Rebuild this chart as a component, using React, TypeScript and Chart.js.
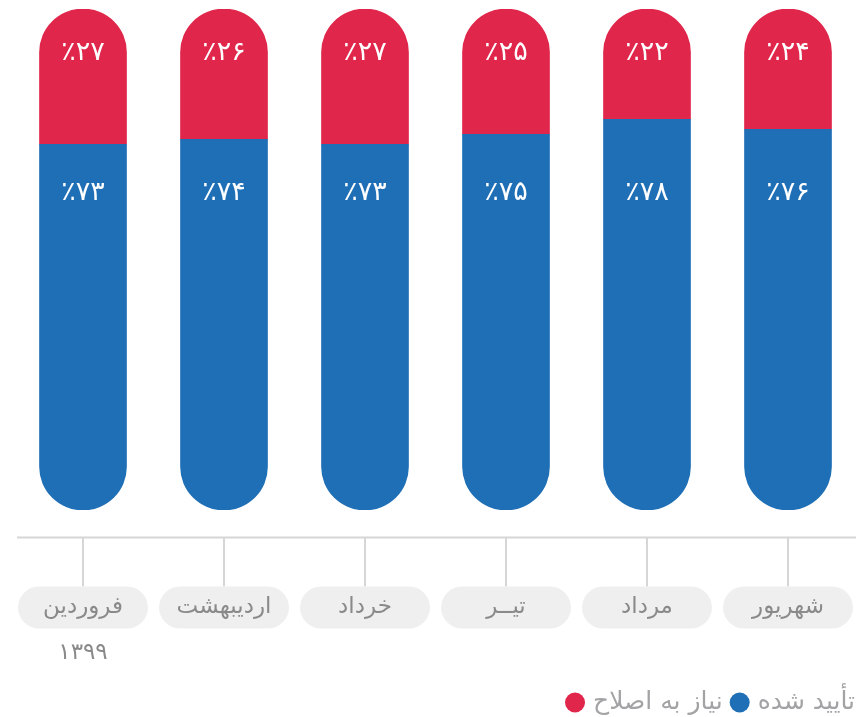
import React, { useEffect, useRef } from 'react';
import { Chart, registerables } from 'chart.js';

Chart.register(...registerables);

const months = ['فروردین', 'اردیبهشت', 'خرداد', 'تیــر', 'مرداد', 'شهریور'];
const approved = [73, 74, 73, 75, 78, 76];
const needsFix = [27, 26, 27, 25, 22, 24];
const approvedLabel = 'تأیید شده';
const needsFixLabel = 'نیاز به اصلاح';
const yearLabel = '۱۳۹۹';

const BLUE = '#1F6FB6';
const RED = '#E0264A';
const FONT = '"DejaVu Sans", sans-serif';

const toFa = (n: number) => String(n).replace(/\d/g, (d) => '۰۱۲۳۴۵۶۷۸۹'[Number(d)]);

const decorPlugin = {
  id: 'decor',
  afterDatasetsDraw(chart: any) {
    const { ctx, scales } = chart;
    const y = scales.y;
    ctx.save();
    ctx.fillStyle = '#ffffff';
    ctx.font = `27px ${FONT}`;
    ctx.textAlign = 'center';
    ctx.textBaseline = 'middle';
    const meta0 = chart.getDatasetMeta(0);
    const meta1 = chart.getDatasetMeta(1);
    meta0.data.forEach((bar: any, i: number) => {
      ctx.fillText('٪' + toFa(approved[i]), bar.x, y.getPixelForValue(63.2));
    });
    meta1.data.forEach((bar: any, i: number) => {
      ctx.fillText('٪' + toFa(needsFix[i]), bar.x, y.getPixelForValue(91.2));
    });
    ctx.restore();
  },
  afterDraw(chart: any) {
    const { ctx, scales, chartArea } = chart;
    const x = scales.x;
    const axisY = chartArea.bottom + 27.5;
    const pillTop = axisY + 49;
    const pillH = 42;
    const pillW = 130;
    ctx.save();
    // axis line
    ctx.strokeStyle = '#D6D6D6';
    ctx.lineWidth = 2;
    ctx.beginPath();
    ctx.moveTo(17, axisY);
    ctx.lineTo(856, axisY);
    ctx.stroke();
    months.forEach((m, i) => {
      const cx = x.getPixelForValue(i);
      ctx.strokeStyle = '#D6D6D6';
      ctx.lineWidth = 2;
      ctx.beginPath();
      ctx.moveTo(cx, axisY);
      ctx.lineTo(cx, pillTop);
      ctx.stroke();
      ctx.fillStyle = '#EFEFEF';
      ctx.beginPath();
      ctx.roundRect(cx - pillW / 2, pillTop, pillW, pillH, pillH / 2);
      ctx.fill();
      ctx.fillStyle = '#8A8A8A';
      ctx.font = `23px ${FONT}`;
      ctx.textAlign = 'center';
      ctx.textBaseline = 'middle';
      ctx.direction = 'rtl';
      ctx.fillText(m, cx, pillTop + pillH / 2);
    });
    // year
    ctx.fillStyle = '#8A8A8A';
    ctx.font = `23px ${FONT}`;
    ctx.textAlign = 'center';
    ctx.direction = 'ltr';
    ctx.fillText(yearLabel, x.getPixelForValue(0), pillTop + pillH + 25);
    // legend (RTL, right aligned)
    const ly = pillTop + pillH + 74;
    ctx.font = `25px ${FONT}`;
    ctx.direction = 'ltr';
    ctx.textAlign = 'right';
    ctx.textBaseline = 'middle';
    let right = 855;
    const items = chart.data.datasets.map((d: any) => ({ label: d.label, color: d.backgroundColor }));
    items.forEach((it: any) => {
      ctx.fillStyle = '#A3A3A6';
      ctx.fillText(it.label, right, ly);
      const w = ctx.measureText(it.label).width;
      const dotR = 10;
      const dcx = right - w - 8 - dotR;
      ctx.fillStyle = it.color;
      ctx.beginPath();
      ctx.arc(dcx, ly, dotR, 0, Math.PI * 2);
      ctx.fill();
      right = dcx - dotR - 7;
    });
    ctx.restore();
  },
};

export default function App() {
  const ref = useRef<HTMLCanvasElement | null>(null);
  useEffect(() => {
    document.body.style.margin = '0';
    const canvas = ref.current!;
    const chart = new Chart(canvas, {
      type: 'bar',
      data: {
        labels: months,
        datasets: [
          {
            label: approvedLabel,
            data: approved,
            backgroundColor: BLUE,
            borderWidth: 0,
            borderSkipped: false,
            borderRadius: { topLeft: 0, topRight: 0, bottomLeft: 44, bottomRight: 44 },
            barThickness: 87,
          },
          {
            label: needsFixLabel,
            data: needsFix,
            backgroundColor: RED,
            borderWidth: 0,
            borderSkipped: false,
            borderRadius: { topLeft: 44, topRight: 44, bottomLeft: 0, bottomRight: 0 },
            barThickness: 87,
          },
        ],
      },
      options: {
        responsive: false,
        animation: false,
        layout: { padding: { left: 12.5, right: 3.5, top: 9, bottom: 207 } },
        plugins: { legend: { display: false }, tooltip: { enabled: false } },
        scales: {
          x: { display: false, stacked: true, offset: true },
          y: { display: false, stacked: true, min: 0, max: 100 },
        },
      },
      plugins: [decorPlugin],
    });
    return () => chart.destroy();
  }, []);
  return (
    <div style={{ position: 'absolute', left: 0, top: 0, width: 862, height: 717 }}>
      <canvas ref={ref} width={862} height={717} />
    </div>
  );
}
